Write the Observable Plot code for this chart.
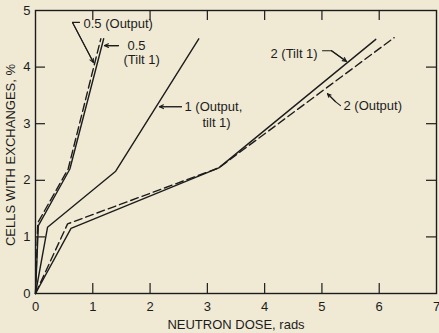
<!DOCTYPE html>
<html><head><meta charset="utf-8">
<script src="https://cdn.jsdelivr.net/npm/d3@7"></script>
<script src="https://cdn.jsdelivr.net/npm/@observablehq/plot@0.6"></script>
<style>
html,body{margin:0;padding:0;background:#f0ead5;}
svg{display:block;}
</style></head><body><div id="chart"></div>
<script>
// ---- data ----
const xTicks = [0, 1, 2, 3, 4, 5, 6, 7];
const yTicks = [0, 1, 2, 3, 4, 5];
const xInner = [1, 2, 3, 4, 5, 6];
const yInner = [1, 2, 3, 4];
const xTitle = "NEUTRON DOSE, rads";
const yTitle = "CELLS WITH EXCHANGES, %";

const s05TiltX = [0, 0.05, 0.60, 1.19];
const s05TiltY = [0, 1.20, 2.20, 4.50];
const s05OutX  = [0, 0.04, 0.57, 1.14];
const s05OutY  = [0, 1.25, 2.20, 4.50];
const s1X      = [0, 0.21, 1.40, 2.85];
const s1Y      = [0, 1.17, 2.16, 4.50];
const s2TiltX  = [0, 0.62, 3.20, 5.94];
const s2TiltY  = [0, 1.15, 2.22, 4.49];
const s2OutX   = [0, 0.56, 3.20, 6.26];
const s2OutY   = [0, 1.23, 2.22, 4.52];

const seriesNames  = ["0.5 (Tilt 1)", "0.5 (Output)", "1 (Output, tilt 1)", "2 (Tilt 1)", "2 (Output)"];
const seriesDashed = [false, true, false, false, true];
const seriesXs = [s05TiltX, s05OutX, s1X, s2TiltX, s2OutX];
const seriesYs = [s05TiltY, s05OutY, s1Y, s2TiltY, s2OutY];

// annotation labels (data units)
const labelTexts = ["0.5 (Output)", "0.5", "(Tilt 1)", "1 (Output,", "tilt 1)", "2 (Tilt 1)", "2 (Output)"];
const labelX     = [0.838, 1.606, 1.536, 2.601, 2.915, 4.102, 5.376];
const labelY     = [4.77, 4.38, 4.12, 3.30, 3.02, 4.24, 3.32];

// leader polylines, last point is the arrow tip
const leaderX = [[0.768, 0.646, 1.012], [1.449, 1.204], [2.548, 2.164], [5.01, 5.167, 5.43], [5.324, 5.236, 5.097]];
const leaderY = [[4.79, 4.79, 4.08], [4.38, 4.38], [3.30, 3.30], [4.29, 4.29, 4.10], [3.32, 3.39, 3.53]];

// ---- build tables ----
const rows = seriesNames.flatMap((name, i) =>
  seriesXs[i].map((x, j) => ({name, dashed: seriesDashed[i], x, y: seriesYs[i][j]})));
const labels = labelTexts.map((text, i) => ({text, x: labelX[i], y: labelY[i]}));
const leaderRows = leaderX.flatMap((xs, i) => xs.map((x, j) => ({id: i, x, y: leaderY[i][j]})));
const leaderTips = leaderX.map((xs, i) => {
  const n = xs.length;
  return {x1: xs[n - 2], y1: leaderY[i][n - 2], x2: xs[n - 1], y2: leaderY[i][n - 1]};
});

const ink = "#1c1c1c";
const W = 439, H = 333, mL = 35, mR = 3, mT = 10, mB = 40;
const tickPx = 10;
const tickY = tickPx / ((H - mT - mB) / 5);
const tickX = tickPx / ((W - mL - mR) / 7);

const chart = Plot.plot({
  width: W, height: H,
  marginLeft: mL, marginRight: mR, marginTop: mT, marginBottom: mB,
  x: {domain: [0, 7]},
  y: {domain: [0, 5]},
  style: {background: "#f0ead5", fontFamily: "'Liberation Sans', Arial, sans-serif", fontSize: "13px", color: ink},
  marks: [
    Plot.frame({stroke: ink, strokeWidth: 1.4}),
    Plot.axisX(xTicks, {tickSize: 0, tickPadding: 8, fontSize: 13, label: null, tickFormat: d => String(d)}),
    Plot.axisY(yTicks, {tickSize: 0, tickPadding: 5, fontSize: 13, label: null, tickFormat: d => String(d)}),
    Plot.ruleX(xInner, {x: d => d, y1: 0, y2: tickY, stroke: ink, strokeWidth: 1.2}),
    Plot.ruleX(xInner, {x: d => d, y1: 5, y2: 5 - tickY, stroke: ink, strokeWidth: 1.2}),
    Plot.ruleY(yInner, {y: d => d, x1: 0, x2: tickX, stroke: ink, strokeWidth: 1.2}),
    Plot.ruleY(yInner, {y: d => d, x1: 7, x2: 7 - tickX, stroke: ink, strokeWidth: 1.2}),
    Plot.line(rows.filter(d => !d.dashed), {x: "x", y: "y", z: "name", stroke: ink, strokeWidth: 1.4}),
    Plot.line(rows.filter(d => d.dashed), {x: "x", y: "y", z: "name", stroke: ink, strokeWidth: 1.4, strokeDasharray: "8,4"}),
    Plot.line(leaderRows, {x: "x", y: "y", z: "id", stroke: ink, strokeWidth: 1.1}),
    Plot.arrow(leaderTips, {x1: "x1", y1: "y1", x2: "x2", y2: "y2", stroke: ink, strokeWidth: 1.1, headLength: 6, headAngle: 50}),
    Plot.text(labels, {x: "x", y: "y", text: "text", textAnchor: "start", fill: ink, fontSize: 13}),
    Plot.text([xTitle], {frameAnchor: "bottom", dy: 31, textAnchor: "middle", lineAnchor: "middle", fill: ink, fontSize: 13}),
    Plot.text([yTitle], {frameAnchor: "left", dx: -25, dy: 3, rotate: -90, textAnchor: "middle", lineAnchor: "middle", fill: ink, fontSize: 13})
  ]
});
document.getElementById("chart").appendChild(chart);
</script></body></html>
